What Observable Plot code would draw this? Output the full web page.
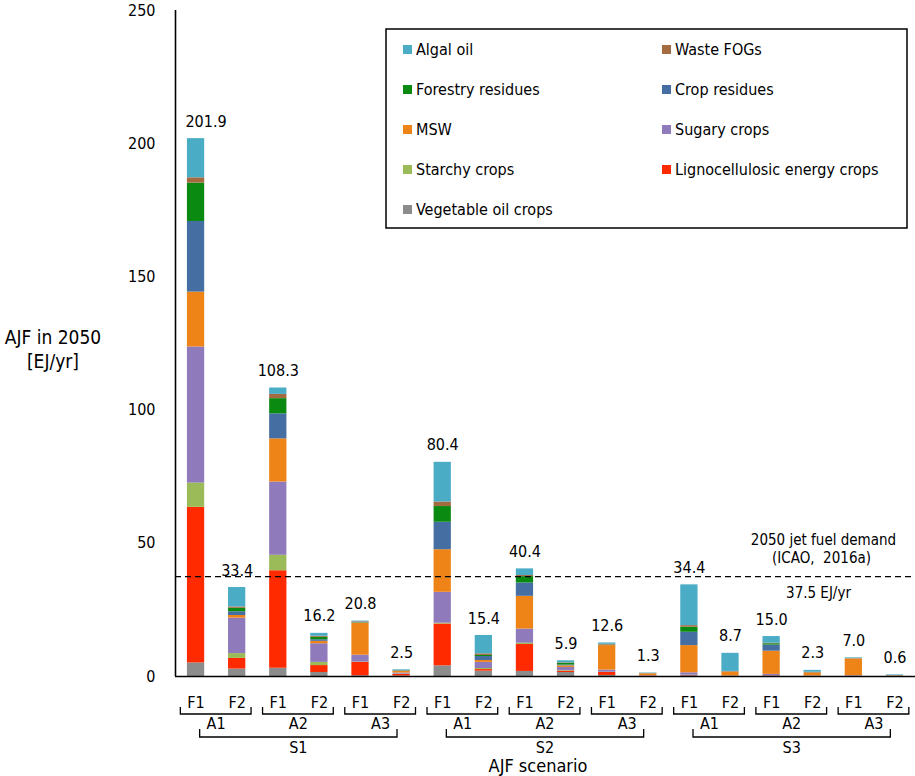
<!DOCTYPE html>
<html><head><meta charset="utf-8">
<script src="https://cdn.jsdelivr.net/npm/d3@7"></script>
<script src="https://cdn.jsdelivr.net/npm/@observablehq/plot@0.6"></script>
<style>
body{margin:0;background:#fff;}
#chart{position:relative;width:915px;height:776px;}
svg text{font-family:"DejaVu Sans Condensed","DejaVu Sans",sans-serif;font-stretch:condensed;fill:#000;}
</style></head><body><div id="chart"></div>
<script>
// ---- data ----
const scenarios = ["S1", "S2", "S3"];
const aircraftGroups = ["A1", "A2", "A3"];
const barLabels = ["F1","F2","F1","F2","F1","F2","F1","F2","F1","F2","F1","F2","F1","F2","F1","F2","F1","F2"];
const totals = [201.9, 33.4, 108.3, 16.2, 20.8, 2.5, 80.4, 15.4, 40.4, 5.9, 12.6, 1.3, 34.4, 8.7, 15.0, 2.3, 7.0, 0.6];
const yTicks = [0, 50, 100, 150, 200, 250];
const demand = 37.5;

const legendOrder = ["Algal oil", "Waste FOGs", "Forestry residues", "Crop residues", "MSW", "Sugary crops", "Starchy crops", "Lignocellulosic energy crops", "Vegetable oil crops"];
const legendColors = ["#4bacc6", "#a36b3f", "#0b8a12", "#456ea3", "#ee8418", "#8f7bbb", "#9bbb59", "#ff2a00", "#8c8c8c"];

const vegetableOil = [5.1, 2.8, 3.1, 1.5, 0.3, 0.2, 4.0, 2.0, 1.9, 1.5, 0.4, 0.1, 0.3, 0.1, 0.2, 0.1, 0.1, 0.05];
const lignocellulosic = [58.4, 4.0, 36.6, 2.6, 5.0, 0.6, 15.7, 0.6, 10.1, 0.5, 1.1, 0.1, 0.1, 0, 0.1, 0, 0, 0];
const starchy = [9.1, 1.8, 5.8, 1.2, 0.1, 0.1, 0.3, 0.4, 0.5, 0.2, 0.1, 0, 0.1, 0, 0, 0, 0, 0];
const sugary = [51.1, 13.3, 27.5, 7.0, 2.6, 0.4, 11.6, 2.3, 5.3, 1.2, 0.8, 0.1, 0.9, 0.1, 0.5, 0.1, 0.2, 0.05];
const msw = [20.6, 1.0, 16.2, 0.9, 12.0, 0.6, 16.0, 0.7, 12.3, 0.6, 9.2, 0.7, 10.2, 1.5, 8.7, 1.2, 6.3, 0.2];
const cropResidues = [26.5, 1.4, 9.4, 0.6, 0.1, 0.1, 10.3, 1.5, 5.0, 0.3, 0.1, 0, 5.0, 0.1, 2.3, 0.1, 0, 0];
const forestryResidues = [14.4, 1.3, 5.7, 0.9, 0.1, 0.1, 5.9, 0.4, 2.4, 0.6, 0.1, 0, 1.9, 0, 0.5, 0, 0, 0];
const wasteFOGs = [2.0, 0.5, 1.6, 0.4, 0.3, 0.1, 1.7, 0.6, 0.4, 0.2, 0.3, 0.1, 0.6, 0.1, 0.2, 0.1, 0.1, 0];
const algalOil = [14.7, 7.3, 2.4, 1.1, 0.3, 0.3, 14.9, 6.9, 2.5, 0.8, 0.5, 0.2, 15.3, 6.8, 2.5, 0.7, 0.3, 0.3];

// stacking order, bottom to top
const stackSeries = [
  ["Vegetable oil crops", vegetableOil],
  ["Lignocellulosic energy crops", lignocellulosic],
  ["Starchy crops", starchy],
  ["Sugary crops", sugary],
  ["MSW", msw],
  ["Crop residues", cropResidues],
  ["Forestry residues", forestryResidues],
  ["Waste FOGs", wasteFOGs],
  ["Algal oil", algalOil]
];

const table = [];
stackSeries.forEach(([source, values]) => values.forEach((v, i) => table.push({bar: i, source, value: v})));
const bars = barLabels.map((f, i) => ({bar: i, f, total: totals[i], label: totals[i].toFixed(1)}));

const FONT = '"DejaVu Sans Condensed","DejaVu Sans",sans-serif';
const half = 0.21;

const chart = Plot.plot({
  width: 915, height: 776,
  marginLeft: 175, marginRight: 0, marginTop: 10, marginBottom: 100,
  style: {fontFamily: FONT, fontSize: "16px", background: "white", color: "black", overflow: "visible"},
  x: {type: "linear", domain: [-0.5, 17.5], axis: null},
  y: {domain: [0, 250]},
  color: {domain: legendOrder, range: legendColors},
  marks: [
    Plot.rectY(table, {x1: d => d.bar - half, x2: d => d.bar + half, y: "value", fill: "source", order: stackSeries.map(s => s[0])}),
    Plot.ruleY([demand], {stroke: "black", strokeWidth: 1.3, strokeDasharray: "6,4"}),
    Plot.ruleX([-0.5], {stroke: "black", strokeWidth: 1.6}),
    Plot.ruleY([0], {stroke: "black", strokeWidth: 1.6}),
    Plot.axisY({ticks: yTicks, tickSize: 0, tickPadding: 20, fontSize: 16, tickFormat: d => String(d), label: null}),
    Plot.text(bars.slice(0, 1), {x: "bar", y: "total", text: "label", dy: -17, dx: 10, fontSize: 16}),
    Plot.text(bars.slice(1), {x: "bar", y: "total", text: "label", dy: -17, fontSize: 16}),
    Plot.text(bars, {x: "bar", y: () => 0, text: "f", dy: 26, fontSize: 16}),
    Plot.text(["2050 jet fuel demand"], {frameAnchor: "right", y: () => demand, dx: -92, dy: -36, fontSize: 15, textAnchor: "middle"}),
    Plot.text(["(ICAO,  2016a)"], {frameAnchor: "right", y: () => demand, dx: -94, dy: -18, fontSize: 15, textAnchor: "middle"}),
    Plot.text(["37.5 EJ/yr"], {frameAnchor: "right", y: () => demand, dx: -97, dy: 17, fontSize: 15, textAnchor: "middle"})
  ]
});
document.getElementById("chart").appendChild(chart);

// ---- grouped category axis (brackets) using the plot's scales ----
const xs = chart.scale("x");
const ys = chart.scale("y");
const X = v => xs.apply(v);
const y0 = ys.apply(0);
const svg = d3.select(chart);
const g = svg.append("g").attr("fill", "none").attr("stroke", "black").attr("stroke-width", 1.3);
const tg = svg.append("g").attr("font-size", 16).attr("text-anchor", "middle").attr("font-family", FONT);

scenarios.forEach((s, si) => {
  aircraftGroups.forEach((a, ai) => {
    const start = si * 6 + ai * 2;
    const x1 = X(start - 0.37), x2 = X(start + 1.35);
    g.append("path").attr("d", `M${x1},${y0 + 31}V${y0 + 38}H${x2}V${y0 + 31}`);
    tg.append("text").attr("x", X(start + 0.5)).attr("y", y0 + 47).attr("dy", "0.35em").text(a);
  });
  const s1 = X(si * 6 + 0.1), s2 = X(si * 6 + 4.9);
  g.append("path").attr("d", `M${s1},${y0 + 53}V${y0 + 61}H${s2}V${y0 + 53}`);
  tg.append("text").attr("x", X(si * 6 + 2.5)).attr("y", y0 + 71).attr("dy", "0.35em").text(s);
});
tg.append("text").attr("x", 538).attr("y", 766).attr("dy", "0.35em").attr("font-size", 18).text("AJF scenario");

// y-axis title
const yt = svg.append("g").attr("font-size", 19).attr("text-anchor", "middle").attr("font-family", FONT);
yt.append("text").attr("x", 53).attr("y", 337).attr("dy", "0.35em").text("AJF in 2050");
yt.append("text").attr("x", 53).attr("y", 361).attr("dy", "0.35em").text("[EJ/yr]");

// legend box inside the plot
const lg = svg.append("g").attr("font-family", FONT).attr("font-size", 16).attr("text-anchor", "start");
lg.append("rect").attr("x", 386).attr("y", 29).attr("width", 521).attr("height", 199)
  .attr("fill", "white").attr("stroke", "black").attr("stroke-width", 1.5);
legendOrder.forEach((name, k) => {
  const col = k % 2, row = Math.floor(k / 2);
  const sx = col === 0 ? 403 : 662;
  const cy = 49.5 + row * 40;
  lg.append("rect").attr("x", sx).attr("y", cy - 4.5).attr("width", 9).attr("height", 9).attr("fill", legendColors[k]);
  lg.append("text").attr("x", sx + 13).attr("y", cy).attr("dy", "0.35em").attr("text-anchor", "start").text(name);
});
</script></body></html>
